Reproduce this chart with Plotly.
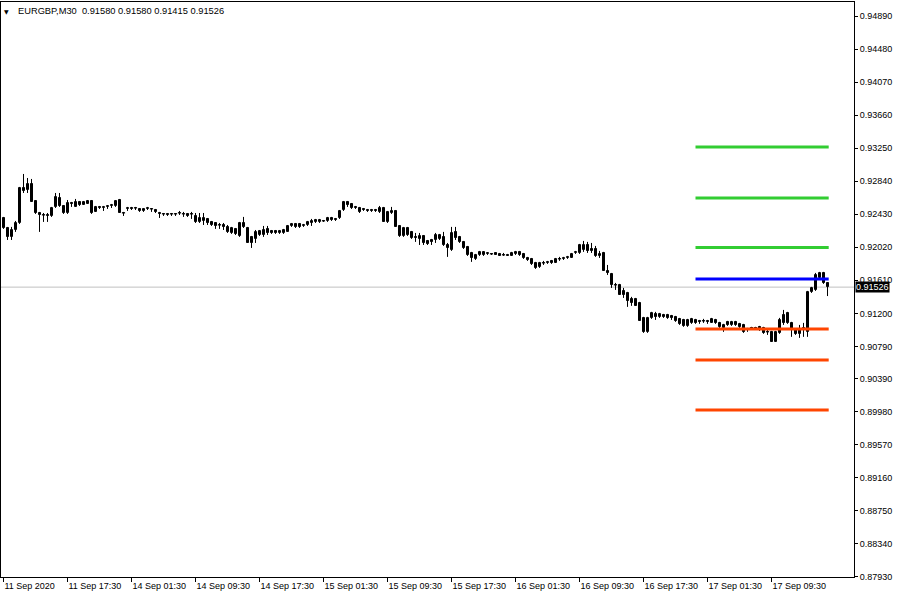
import plotly.graph_objects as go

open_ = [
    0.92384, 0.92260, 0.92149, 0.92235, 0.92322, 0.92756, 0.92731, 0.92806, 0.92595, 0.92446,
    0.92421, 0.92421, 0.92409, 0.92521, 0.92632, 0.92533, 0.92446, 0.92570, 0.92521, 0.92583,
    0.92545, 0.92558, 0.92595, 0.92459, 0.92521, 0.92508, 0.92521, 0.92533, 0.92533, 0.92607,
    0.92446, 0.92496, 0.92508, 0.92508, 0.92496, 0.92471, 0.92496, 0.92496, 0.92483, 0.92446,
    0.92434, 0.92434, 0.92434, 0.92434, 0.92446, 0.92434, 0.92434, 0.92434, 0.92409, 0.92335,
    0.92347, 0.92372, 0.92335, 0.92322, 0.92297, 0.92297, 0.92273, 0.92198, 0.92248, 0.92161,
    0.92322, 0.92260, 0.92149, 0.92124, 0.92173, 0.92173, 0.92248, 0.92223, 0.92223, 0.92198,
    0.92198, 0.92211, 0.92285, 0.92310, 0.92310, 0.92285, 0.92297, 0.92322, 0.92335, 0.92335,
    0.92347, 0.92347, 0.92384, 0.92372, 0.92384, 0.92483, 0.92583, 0.92558, 0.92521, 0.92508,
    0.92496, 0.92483, 0.92483, 0.92483, 0.92459, 0.92508, 0.92335, 0.92446, 0.92471, 0.92285,
    0.92161, 0.92260, 0.92211, 0.92149, 0.92124, 0.92161, 0.92099, 0.92111, 0.92111, 0.92124,
    0.92149, 0.92049, 0.91987, 0.92211, 0.92149, 0.92087, 0.92025, 0.91950, 0.91876, 0.91925,
    0.91925, 0.91938, 0.91938, 0.91950, 0.91938, 0.91925, 0.91925, 0.91913, 0.91938, 0.91963,
    0.91938, 0.91888, 0.91876, 0.91826, 0.91777, 0.91826, 0.91826, 0.91851, 0.91826, 0.91876,
    0.91876, 0.91888, 0.91888, 0.91950, 0.91950, 0.91987, 0.92049, 0.92000, 0.92000, 0.91913,
    0.91950, 0.91727, 0.91690, 0.91553, 0.91553, 0.91479, 0.91454, 0.91380, 0.91380, 0.91330,
    0.91144, 0.90971, 0.91144, 0.91194, 0.91157, 0.91181, 0.91181, 0.91169, 0.91157, 0.91132,
    0.91119, 0.91045, 0.91082, 0.91119, 0.91107, 0.91107, 0.91107, 0.91082, 0.91119, 0.91082,
    0.91020, 0.91095, 0.91057, 0.91095, 0.91070, 0.91057, 0.91008, 0.91020, 0.91020, 0.91033,
    0.91020, 0.90971, 0.90971, 0.90846, 0.90958, 0.91181, 0.91206, 0.91082, 0.90995, 0.90946,
    0.91008, 0.90971, 0.91467, 0.91491, 0.91640, 0.91702, 0.91580,
]
high_ = [
    0.92397, 0.92273, 0.92273, 0.92347, 0.92769, 0.92930, 0.92880, 0.92868, 0.92595, 0.92459,
    0.92446, 0.92446, 0.92521, 0.92694, 0.92694, 0.92545, 0.92607, 0.92583, 0.92620, 0.92595,
    0.92595, 0.92607, 0.92607, 0.92533, 0.92533, 0.92533, 0.92545, 0.92558, 0.92607, 0.92620,
    0.92459, 0.92521, 0.92521, 0.92521, 0.92508, 0.92508, 0.92521, 0.92496, 0.92496, 0.92459,
    0.92446, 0.92446, 0.92446, 0.92434, 0.92471, 0.92459, 0.92446, 0.92459, 0.92446, 0.92446,
    0.92446, 0.92384, 0.92347, 0.92322, 0.92322, 0.92322, 0.92297, 0.92273, 0.92260, 0.92335,
    0.92397, 0.92273, 0.92161, 0.92235, 0.92235, 0.92285, 0.92285, 0.92235, 0.92235, 0.92235,
    0.92248, 0.92297, 0.92322, 0.92322, 0.92322, 0.92310, 0.92347, 0.92372, 0.92372, 0.92372,
    0.92359, 0.92397, 0.92397, 0.92384, 0.92483, 0.92595, 0.92595, 0.92570, 0.92533, 0.92521,
    0.92508, 0.92496, 0.92496, 0.92496, 0.92533, 0.92521, 0.92471, 0.92521, 0.92483, 0.92297,
    0.92273, 0.92273, 0.92223, 0.92198, 0.92198, 0.92173, 0.92111, 0.92124, 0.92198, 0.92186,
    0.92211, 0.92074, 0.92273, 0.92273, 0.92161, 0.92099, 0.92037, 0.91963, 0.91938, 0.91975,
    0.91963, 0.91950, 0.91938, 0.91950, 0.91950, 0.91950, 0.91938, 0.91963, 0.91975, 0.91975,
    0.91950, 0.91901, 0.91888, 0.91839, 0.91839, 0.91851, 0.91851, 0.91863, 0.91888, 0.91901,
    0.91901, 0.91913, 0.91950, 0.91975, 0.92062, 0.92099, 0.92087, 0.92074, 0.92037, 0.91975,
    0.91963, 0.91801, 0.91702, 0.91578, 0.91566, 0.91516, 0.91467, 0.91405, 0.91392, 0.91343,
    0.91157, 0.91157, 0.91219, 0.91219, 0.91206, 0.91194, 0.91194, 0.91181, 0.91169, 0.91144,
    0.91132, 0.91132, 0.91144, 0.91132, 0.91119, 0.91132, 0.91119, 0.91144, 0.91132, 0.91095,
    0.91070, 0.91107, 0.91107, 0.91107, 0.91082, 0.91070, 0.91020, 0.91033, 0.91033, 0.91045,
    0.91033, 0.90995, 0.90983, 0.90983, 0.91144, 0.91243, 0.91219, 0.91095, 0.91008, 0.91057,
    0.91082, 0.91479, 0.91529, 0.91702, 0.91715, 0.91715, 0.91580,
]
low_ = [
    0.92248, 0.92111, 0.92111, 0.92211, 0.92310, 0.92694, 0.92694, 0.92583, 0.92434, 0.92211,
    0.92335, 0.92335, 0.92397, 0.92508, 0.92521, 0.92434, 0.92434, 0.92521, 0.92521, 0.92533,
    0.92545, 0.92558, 0.92434, 0.92459, 0.92496, 0.92471, 0.92496, 0.92508, 0.92521, 0.92446,
    0.92409, 0.92471, 0.92483, 0.92483, 0.92459, 0.92459, 0.92483, 0.92459, 0.92446, 0.92384,
    0.92409, 0.92409, 0.92409, 0.92409, 0.92421, 0.92397, 0.92397, 0.92372, 0.92322, 0.92322,
    0.92297, 0.92297, 0.92285, 0.92248, 0.92248, 0.92235, 0.92198, 0.92186, 0.92173, 0.92149,
    0.92260, 0.92074, 0.92012, 0.92074, 0.92161, 0.92149, 0.92173, 0.92186, 0.92186, 0.92186,
    0.92186, 0.92211, 0.92273, 0.92260, 0.92260, 0.92273, 0.92285, 0.92285, 0.92322, 0.92322,
    0.92335, 0.92335, 0.92347, 0.92347, 0.92372, 0.92471, 0.92521, 0.92496, 0.92496, 0.92446,
    0.92471, 0.92459, 0.92459, 0.92459, 0.92446, 0.92335, 0.92322, 0.92434, 0.92273, 0.92149,
    0.92149, 0.92161, 0.92124, 0.92087, 0.92049, 0.92049, 0.92049, 0.92049, 0.92074, 0.92111,
    0.92037, 0.91901, 0.91975, 0.92111, 0.92074, 0.92000, 0.91913, 0.91839, 0.91863, 0.91913,
    0.91913, 0.91925, 0.91925, 0.91925, 0.91913, 0.91913, 0.91913, 0.91913, 0.91925, 0.91913,
    0.91876, 0.91851, 0.91801, 0.91752, 0.91764, 0.91801, 0.91814, 0.91814, 0.91826, 0.91851,
    0.91863, 0.91876, 0.91888, 0.91938, 0.91938, 0.91963, 0.91950, 0.91950, 0.91901, 0.91888,
    0.91727, 0.91677, 0.91516, 0.91491, 0.91429, 0.91392, 0.91281, 0.91293, 0.91293, 0.91107,
    0.90958, 0.90958, 0.91132, 0.91119, 0.91144, 0.91144, 0.91132, 0.91119, 0.91095, 0.91057,
    0.91033, 0.91033, 0.91070, 0.91070, 0.91070, 0.91082, 0.91070, 0.91082, 0.91070, 0.91020,
    0.90971, 0.91045, 0.91045, 0.91045, 0.91020, 0.90958, 0.90971, 0.91008, 0.91008, 0.90983,
    0.90946, 0.90933, 0.90846, 0.90846, 0.90946, 0.91057, 0.91070, 0.90909, 0.90933, 0.90896,
    0.90909, 0.90909, 0.91454, 0.91479, 0.91628, 0.91566, 0.91415,
]
close_ = [
    0.92260, 0.92149, 0.92235, 0.92322, 0.92756, 0.92719, 0.92806, 0.92583, 0.92446, 0.92421,
    0.92421, 0.92409, 0.92508, 0.92645, 0.92533, 0.92446, 0.92570, 0.92558, 0.92583, 0.92545,
    0.92583, 0.92595, 0.92446, 0.92521, 0.92508, 0.92521, 0.92533, 0.92545, 0.92595, 0.92446,
    0.92446, 0.92508, 0.92496, 0.92508, 0.92471, 0.92496, 0.92508, 0.92496, 0.92459, 0.92434,
    0.92434, 0.92421, 0.92434, 0.92434, 0.92446, 0.92434, 0.92409, 0.92434, 0.92335, 0.92384,
    0.92384, 0.92322, 0.92297, 0.92285, 0.92297, 0.92273, 0.92211, 0.92260, 0.92186, 0.92322,
    0.92273, 0.92074, 0.92074, 0.92211, 0.92223, 0.92235, 0.92198, 0.92198, 0.92198, 0.92223,
    0.92235, 0.92285, 0.92310, 0.92273, 0.92273, 0.92297, 0.92335, 0.92347, 0.92359, 0.92359,
    0.92347, 0.92384, 0.92359, 0.92359, 0.92471, 0.92583, 0.92545, 0.92508, 0.92508, 0.92459,
    0.92483, 0.92471, 0.92471, 0.92471, 0.92508, 0.92335, 0.92459, 0.92471, 0.92273, 0.92161,
    0.92260, 0.92173, 0.92136, 0.92136, 0.92161, 0.92074, 0.92062, 0.92087, 0.92173, 0.92173,
    0.92049, 0.92012, 0.92198, 0.92136, 0.92087, 0.92012, 0.91925, 0.91888, 0.91925, 0.91963,
    0.91963, 0.91950, 0.91938, 0.91925, 0.91913, 0.91925, 0.91913, 0.91950, 0.91963, 0.91925,
    0.91888, 0.91863, 0.91814, 0.91764, 0.91826, 0.91826, 0.91839, 0.91826, 0.91876, 0.91876,
    0.91888, 0.91901, 0.91938, 0.91963, 0.92049, 0.92049, 0.91975, 0.91975, 0.91913, 0.91938,
    0.91727, 0.91702, 0.91553, 0.91553, 0.91429, 0.91429, 0.91355, 0.91330, 0.91293, 0.91107,
    0.90971, 0.91144, 0.91206, 0.91157, 0.91194, 0.91157, 0.91144, 0.91144, 0.91107, 0.91070,
    0.91045, 0.91119, 0.91132, 0.91082, 0.91095, 0.91107, 0.91095, 0.91132, 0.91082, 0.91033,
    0.91057, 0.91057, 0.91095, 0.91057, 0.91033, 0.90971, 0.91008, 0.91020, 0.91020, 0.90995,
    0.90958, 0.90971, 0.90846, 0.90971, 0.91119, 0.91082, 0.91082, 0.90995, 0.90946, 0.90995,
    0.91020, 0.91467, 0.91516, 0.91677, 0.91702, 0.91578, 0.91526,
]

time_tick_index = [0, 16, 32, 48, 64, 80, 96, 112, 128, 144, 160, 176, 192]
time_tick_labels = [
    "11 Sep 2020", "11 Sep 17:30", "14 Sep 01:30", "14 Sep 09:30", "14 Sep 17:30",
    "15 Sep 01:30", "15 Sep 09:30", "15 Sep 17:30", "16 Sep 01:30", "16 Sep 09:30",
    "16 Sep 17:30", "17 Sep 01:30", "17 Sep 09:30",
]
price_ticks = [
    0.94890, 0.94480, 0.94070, 0.93660, 0.93250, 0.92840, 0.92430, 0.92020, 0.91610,
    0.91200, 0.90790, 0.90390, 0.89980, 0.89570, 0.89160, 0.88750, 0.88340, 0.87930,
]
level_values = [0.93265, 0.92632, 0.92018, 0.91627, 0.91007, 0.90622, 0.90002]
level_colors = ["#32CD32", "#32CD32", "#32CD32", "#0000FF", "#FF4500", "#FF4500", "#FF4500"]
level_start_index = 173
symbol_title = "EURGBP,M30"

n = len(close_)
idx = list(range(n))

# wicks (and doji ticks)
wx, wy = [], []
for i in idx:
    wx += [i, i, None]
    wy += [low_[i], high_[i], None]
    if abs(close_[i] - open_[i]) < 1e-9:
        wx += [i - 0.4, i + 0.4, None]
        wy += [close_[i], close_[i], None]

base = [min(o, c) for o, c in zip(open_, close_)]
body = [abs(c - o) for o, c in zip(open_, close_)]
fill = ["white" if c > o else "black" for o, c in zip(open_, close_)]

fig = go.Figure()
fig.add_trace(go.Scatter(x=wx, y=wy, mode="lines", line=dict(color="black", width=1),
                         hoverinfo="skip", showlegend=False))
fig.add_trace(go.Bar(x=idx, y=body, base=base, width=0.5,
                     marker=dict(color=fill, line=dict(color="black", width=1)),
                     showlegend=False))

end_x = idx[-1] + 0.3
for lv, col in zip(level_values, level_colors):
    fig.add_trace(go.Scatter(x=[level_start_index, end_x], y=[lv, lv], mode="lines",
                             line=dict(color=col, width=3), showlegend=False, hoverinfo="skip"))

last = close_[-1]
fig.add_shape(type="line", xref="paper", x0=0, x1=1, yref="y", y0=last, y1=last,
              line=dict(color="#C0C0C0", width=1), layer="below")

font = "Liberation Sans, Arial, sans-serif"
fig.add_annotation(xref="paper", yref="y", x=1, y=last, xanchor="left", yanchor="middle",
                   xshift=1, text=f"{last:.5f}", showarrow=False, bgcolor="black",
                   font=dict(family=font, size=9, color="white"), borderpad=0)
fig.add_annotation(xref="paper", yref="paper", x=0, y=1, xanchor="center", yanchor="middle",
                   xshift=5, yshift=-9, text="▼", showarrow=False,
                   font=dict(family="DejaVu Sans", size=6, color="black"))
title_text = (f"{symbol_title}\u00a0 {open_[-1]:.5f} {high_[-1]:.5f} "
              f"{low_[-1]:.5f} {close_[-1]:.5f}")
fig.add_annotation(xref="paper", yref="paper", x=0, y=1, xanchor="left", yanchor="middle",
                   xshift=15, yshift=-9, text=title_text, showarrow=False,
                   font=dict(family=font, size=9.3, color="black"))

fig.update_layout(
    width=900, height=600,
    margin=dict(l=1, r=46, t=2, b=23, pad=0),
    paper_bgcolor="white", plot_bgcolor="white",
    showlegend=False, bargap=0,
    xaxis=dict(range=[-0.625, 212.625], tickmode="array", tickvals=time_tick_index,
               ticktext=time_tick_labels, ticks="outside", ticklen=4, tickcolor="black",
               showline=True, linecolor="black", linewidth=1, mirror=True,
               showgrid=False, zeroline=False, ticklabelposition="outside right",
               tickfont=dict(family=font, size=9, color="black"), automargin=False,
               fixedrange=True),
    yaxis=dict(side="right", range=[0.87929, 0.950637], tickmode="array",
               tickvals=price_ticks, ticktext=[f"{v:.5f}" for v in price_ticks],
               ticks="outside", ticklen=3, tickcolor="black",
               showline=True, linecolor="black", linewidth=1, mirror=True,
               showgrid=False, zeroline=False,
               tickfont=dict(family=font, size=9, color="black"), automargin=False,
               fixedrange=True),
)

fig.write_html("out.html", config={"displayModeBar": False},
               post_script="document.body.style.margin='0';document.body.style.overflow='hidden';")
